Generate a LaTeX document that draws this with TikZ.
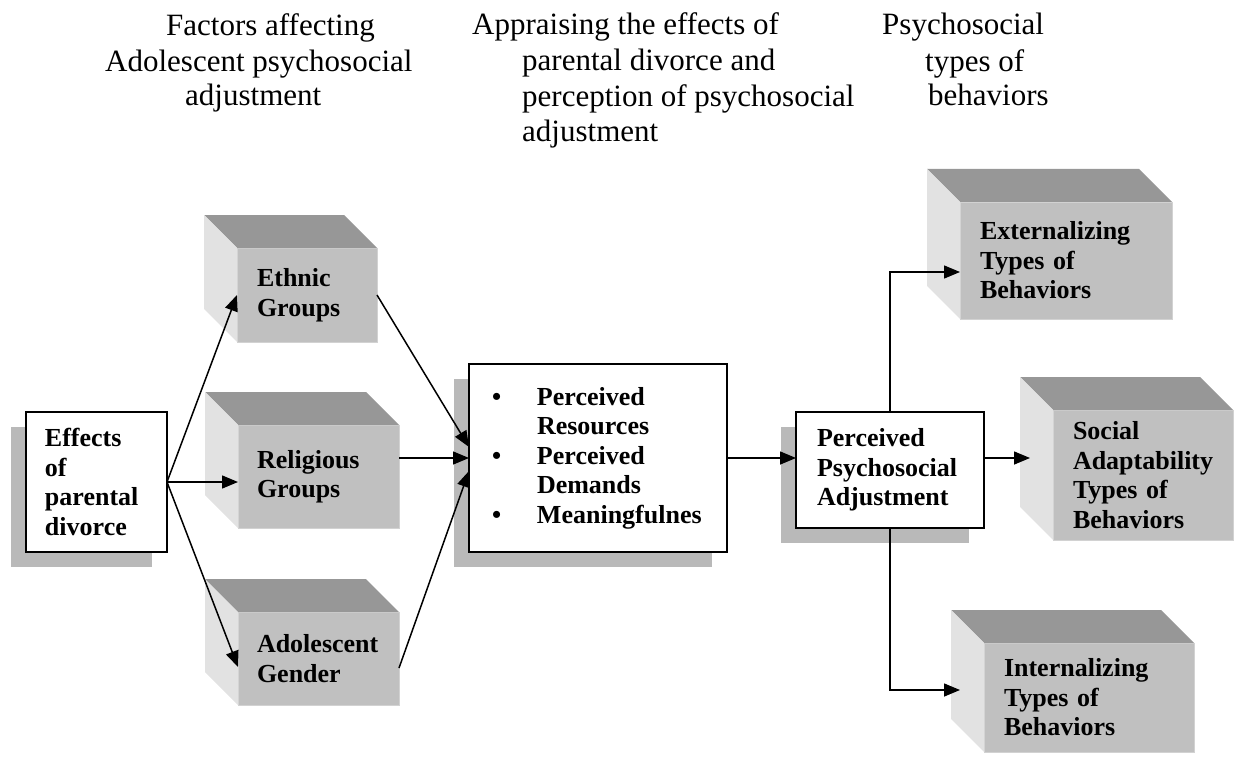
\documentclass[tikz,border=0pt]{standalone}
\usepackage{fontspec}
\setmainfont{Liberation Serif}
\usetikzlibrary{arrows.meta,calc,shadows}
\definecolor{frontgray}{HTML}{C0C0C0}
\definecolor{topgray}{HTML}{979797}
\definecolor{sidegray}{HTML}{E2E2E2}
\definecolor{edgegray}{HTML}{D2D2D2}
\definecolor{shadowgray}{HTML}{B9B9B9}
\begin{document}
\begin{tikzpicture}[x=1pt,y=-1pt,
  title/.style={anchor=base west,inner sep=0pt,font=\fontsize{31}{35.5}\selectfont},
  boxtext/.style={align=left,inner ysep=0pt,outer sep=0pt,font=\bfseries\fontsize{26}{29.5}\selectfont},
  cube/.style={boxtext,fill=frontgray,draw=edgegray,line width=0.8pt},
  flat/.style={boxtext,fill=white,draw=black,line width=1.7pt,
    drop shadow={shadow xshift=-15pt,shadow yshift=-15pt,fill=shadowgray,opacity=1}},
  topface/.style={fill=topgray},
  sideface/.style={fill=sidegray},
  conn/.style={line width=1.5pt,-{Triangle[length=16pt,width=13pt]}}]
\useasboundingbox (0,0) rectangle (1235,757);

% titles
\node[title] (t1a) at (166,36) {Factors affecting};
\node[title] (t1b) at (105,72) {Adolescent psychosocial};
\node[title] (t1c) at (185,106) {adjustment};
\node[title] (t2a) at (472,35) {Appraising the effects of};
\node[title] (t2b) at (522,71) {parental divorce and};
\node[title] (t2c) at (522,107) {perception of psychosocial};
\node[title] (t2d) at (522,142) {adjustment};
\node[title] (t3a) at (882,35) {Psychosocial};
\node[title] (t3b) at (925,72) {types of};
\node[title] (t3c) at (928,106) {behaviors};

% flat boxes
\node[flat,minimum width=141,minimum height=140,text width=103,inner xsep=19] (effects) at (96.5,482)
  {Effects\\of\\parental\\divorce};
\node[flat,minimum width=258,minimum height=188,text width=212,inner xsep=23] (center) at (598,458)
  {\makebox[45pt][l]{\textbullet}Perceived\\\hspace*{45pt}Resources\\\makebox[45pt][l]{\textbullet}Perceived\\\hspace*{45pt}Demands\\\makebox[45pt][l]{\textbullet}Meaningfulnes};
\node[flat,minimum width=188,minimum height=116,text width=146,inner xsep=21] (ppa) at (890,470)
  {Perceived\\Psychosocial\\Adjustment};

% cube boxes (front faces)
\node[cube,minimum width=140,minimum height=94,text width=100,inner xsep=20] (ethnic) at (307,295)
  {Ethnic\\Groups};
\node[cube,minimum width=161,minimum height=103,text width=123,inner xsep=19] (religious) at (318.5,476.5)
  {Religious\\Groups};
\node[cube,minimum width=161,minimum height=93,text width=123,inner xsep=19] (gender) at (318.5,658.5)
  {Adolescent\\Gender};
\node[cube,minimum width=212,minimum height=117,text width=172,inner xsep=20] (extern) at (1066,260.5)
  {Externalizing\\Types of\\Behaviors};
\node[cube,minimum width=180,minimum height=130,text width=140,inner xsep=20] (social) at (1143,475)
  {Social\\Adaptability\\Types of\\Behaviors};
\node[cube,minimum width=210,minimum height=109,text width=170,inner xsep=20] (intern) at (1089,697.5)
  {Internalizing\\Types of\\Behaviors};

% cube top and side faces
\foreach \n in {ethnic,religious,gender,extern,social,intern}{
  \fill[topface] (\n.north west) -- (\n.north east) -- ([shift={(-33,-33)}]\n.north east)
     -- ([shift={(-33,-33)}]\n.north west) -- cycle;
  \fill[sideface] (\n.north west) -- ([shift={(-33,-33)}]\n.north west)
     -- ([shift={(-33,-33)}]\n.south west) -- (\n.south west) -- cycle;
}

% connectors
\draw[conn] (effects.east) -- (ethnic.west);
\draw[conn] (effects.east) -- (religious.west |- effects.east);
\draw[conn] (effects.east) -- ($(gender.west)+(0,8.5)$);
\draw[conn] (ethnic.east) -- ($(center.west)+(0,-11)$);
\draw[conn] (religious.east |- center.west) -- (center.west);
\draw[conn] ($(gender.east)+(0,9.5)$) -- ($(center.west)+(0,13)$);
\draw[conn] (center.east) -- (ppa.west |- center.east);
\coordinate (socin) at ($(social.west |- center.east)+(-23,0)$);
\draw[conn] (ppa.east |- center.east) -- (socin);
\draw[conn] (ppa.north) |- ($(extern.west)+(0,11.5)$);
\coordinate (intin) at ($(intern.west)+(-24,-7.5)$);
\draw[conn] (ppa.south) |- (intin);
\end{tikzpicture}
\end{document}
